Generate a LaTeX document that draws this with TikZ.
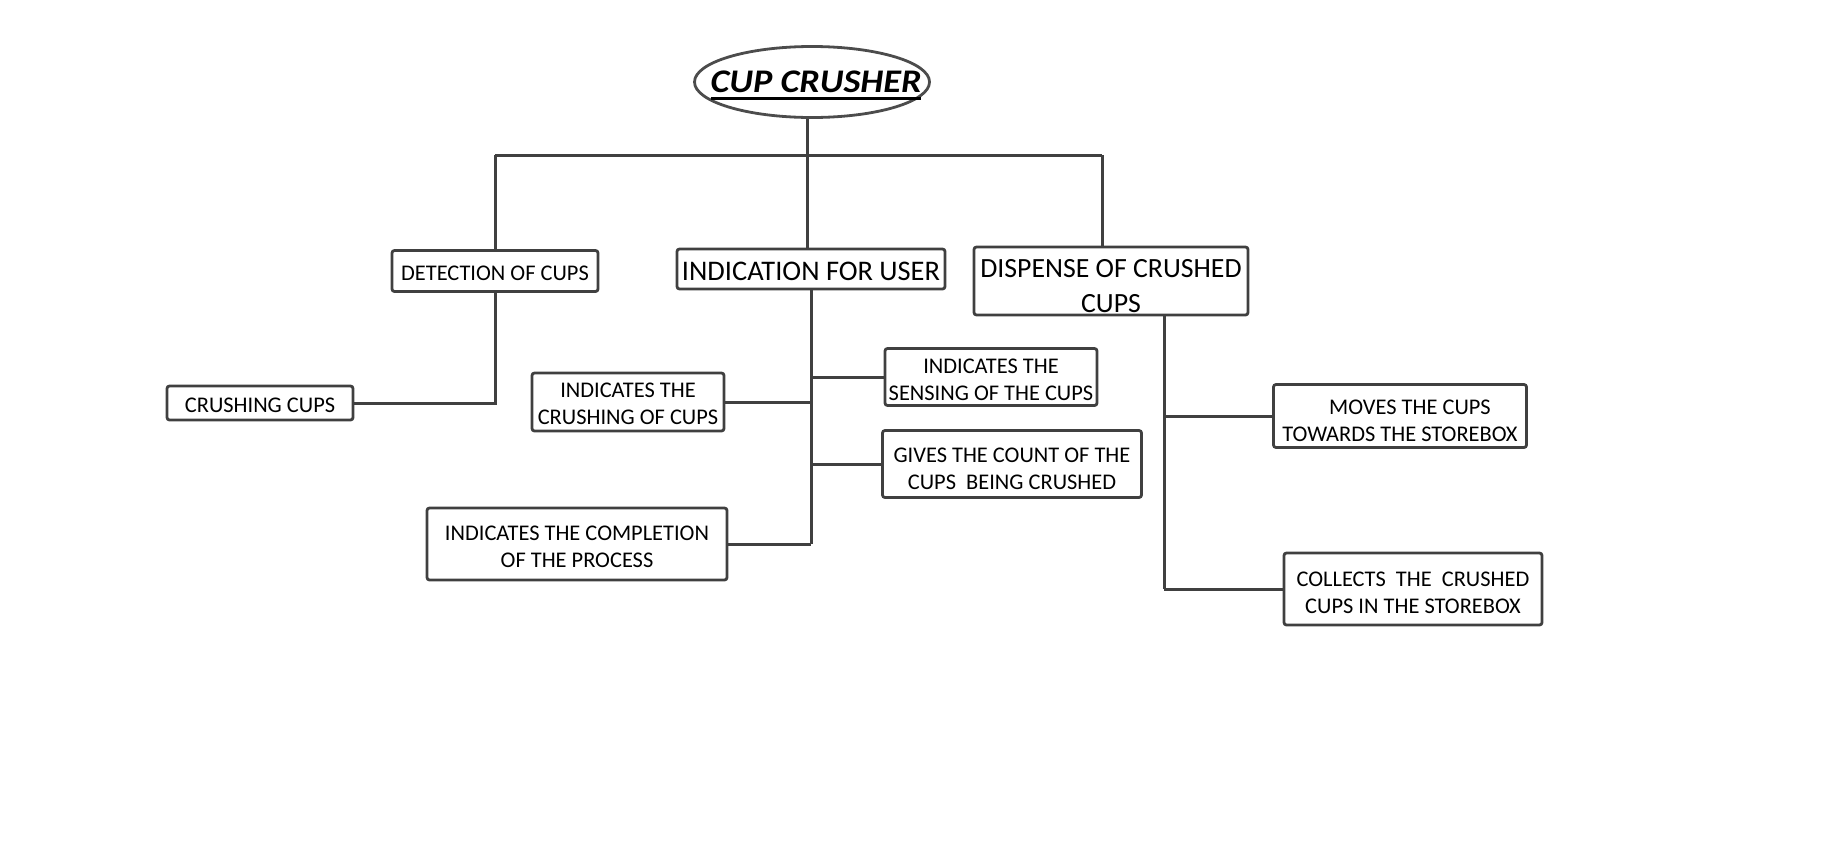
\documentclass[tikz,border=0pt]{standalone}
\usepackage{fontspec}
\setmainfont{Carlito}
\usetikzlibrary{shapes.geometric}
\newcommand\myul[1]{\setbox0\hbox{#1}\leavevmode\rlap{\copy0}\rule[-7pt]{\wd0}{2.8pt}}
\tikzset{
  ln/.style={draw=black!75, line width=3pt},
  bxshape/.style={draw=black!75, line width=2.8pt, rounded corners=2.5pt, inner sep=0pt},
  bxtext/.style={inner sep=0pt, align=center, font=\fontsize{22.4}{26.8}\selectfont},
  bigtext/.style={inner sep=0pt, align=center, font=\fontsize{28.4}{34}\selectfont},
  disptext/.style={inner sep=0pt, align=center, font=\fontsize{27.8}{35}\selectfont},
  rootshape/.style={ellipse, draw=black!70, line width=2.8pt, inner sep=0pt},
  roottext/.style={inner sep=0pt, font=\fontsize{33}{38}\selectfont\bfseries\itshape}
}
% #1 text style, #2 name, #3 position, #4 width, #5 height, #6 text shift, #7 text
\newcommand\mybox[7]{%
  \node[bxshape, minimum width=#4, minimum height=#5] (#2) at #3 {};
  \node[#1] (#2-t) at ([yshift=#6]#2.center) {#7};}
\begin{document}
\begin{tikzpicture}[x=1pt,y=-1pt]
\useasboundingbox (0,0) rectangle (1832,849);
% root
\node[rootshape, minimum width=235pt, minimum height=71pt] (top) at (812,82) {};
\node[roottext] (top-t) at ([xshift=4pt,yshift=-3.5pt]top.center) {\scalebox{1.1}[1]{\myul{CUP CRUSHER}}};
% boxes
\mybox{bxtext}{det}{(495,271)}{206pt}{41pt}{-2.5pt}{DETECTION OF CUPS}
\mybox{bigtext}{ind}{(811,269)}{268pt}{40pt}{-2.5pt}{INDICATION FOR USER}
\mybox{disptext}{disp}{(1111,281)}{274pt}{68pt}{-5pt}{DISPENSE OF CRUSHED\\CUPS}
\mybox{bxtext}{cc}{(260,403)}{186pt}{34pt}{-2.5pt}{CRUSHING CUPS}
\mybox{bxtext}{icr}{(628,402)}{192pt}{58pt}{-1.5pt}{INDICATES THE\\CRUSHING OF CUPS}
\mybox{bxtext}{icomp}{(577,544)}{300pt}{72pt}{-2.5pt}{INDICATES THE COMPLETION\\OF THE PROCESS}
\mybox{bxtext}{isen}{(991,377)}{212pt}{57pt}{-2.5pt}{INDICATES THE\\SENSING OF THE CUPS}
\mybox{bxtext}{igiv}{(1012,464)}{259pt}{67pt}{-4.5pt}{GIVES THE COUNT OF THE\\CUPS\ \ BEING CRUSHED}
\mybox{bxtext}{mov}{(1400,416)}{253pt}{63pt}{-4.5pt}{\hspace*{20pt}MOVES THE CUPS\\TOWARDS THE STOREBOX}
\mybox{bxtext}{col}{(1413,589)}{258pt}{72pt}{-3.5pt}{COLLECTS\ \ THE\ \ CRUSHED\\CUPS IN THE STOREBOX}
% helper coordinates
\coordinate (barL) at (495,155);
\coordinate (barR) at (1102,155);
\coordinate (trunk) at (807,155);
\coordinate (dv) at ([xshift=53pt]disp.south);
% top level
\draw[ln] (top.south -| trunk) -- (trunk);
\draw[ln] (barL) -- (barR);
\draw[ln] (barL) -- (det.north);
\draw[ln] (trunk) -- (trunk |- ind.north);
\draw[ln] (barR) -- (barR |- disp.north);
% detection
\draw[ln] (det.south) -- (det.south |- cc.east) -- (cc.east);
% indication
\draw[ln] (ind.south) -- (ind.south |- icomp.east);
\draw[ln] (icr.east) -- (icr.east -| ind.south);
\draw[ln] (icomp.east) -- (icomp.east -| ind.south);
\draw[ln] (isen.west) -- (isen.west -| ind.south);
\draw[ln] (igiv.west) -- (igiv.west -| ind.south);
% dispense
\draw[ln] (dv) -- (dv |- col.west);
\draw[ln] (mov.west) -- (mov.west -| dv);
\draw[ln] (col.west) -- (col.west -| dv);
\end{tikzpicture}
\end{document}
